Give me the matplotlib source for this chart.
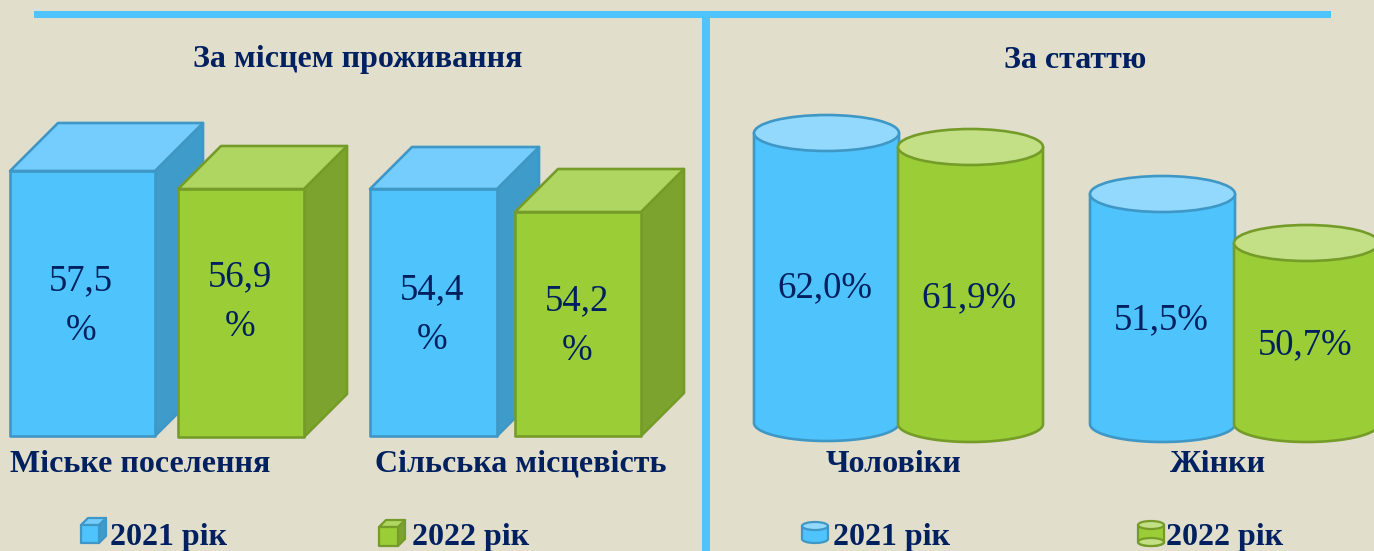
"""
Recreates the two-panel employment chart (by place of residence and by sex), 3D style boxes and cylinders.
"""

# import the required libraries
import numpy as np
import matplotlib
matplotlib.use('Agg')
import matplotlib.pyplot as plt
from matplotlib.patches import Polygon, Ellipse, Rectangle

# chart data
panel_titles = ['За місцем проживання', 'За статтю']
place_labels = ['Міське поселення', 'Сільська місцевість']
sex_labels = ['Чоловіки', 'Жінки']
legend_labels = ['2021 рік', '2022 рік']

place_2021 = [57.5, 54.4]
place_2022 = [56.9, 54.2]
sex_2021 = [62.0, 51.5]
sex_2022 = [61.9, 50.7]

# the shapes in the picture are not to scale, so their drawn heights are read off separately
place_heights_2021 = [265, 247]
place_heights_2022 = [248, 224]
sex_heights_2021 = [290, 230]
sex_heights_2022 = [277, 181]

# colours
BG = '#E1DECB'
NAVY = '#002060'
LINE = '#4FC3FB'
BLUE = dict(front='#4FC3FB', top='#74CDFC', side='#3F9BC9', edge='#3F97C6', cap='#93D9FD')
GREEN = dict(front='#9ACD36', top='#AFD660', side='#7BA32D', edge='#759C29', cap='#C3E087')
SERIF = 'Liberation Serif'
BOLD_SIZE = 23
VALUE_SIZE = 26.5


def fmt(value):
    return f'{value:.1f}'.replace('.', ',')


# draw a box with its front face standing on 'bottom'
def draw_box(ax, left, width, height, depth, bottom, colors, lw=1.9):
    top = bottom - height
    right = left + width
    ax.add_patch(Polygon([(right, top), (right + depth, top - depth), (right + depth, bottom - depth), (right, bottom)],
                         closed=True, fc=colors['side'], ec=colors['edge'], lw=lw, joinstyle='round'))
    ax.add_patch(Polygon([(left, top), (left + depth, top - depth), (right + depth, top - depth), (right, top)],
                         closed=True, fc=colors['top'], ec=colors['edge'], lw=lw, joinstyle='round'))
    ax.add_patch(Rectangle((left, top), width, height, fc=colors['front'], ec=colors['edge'], lw=lw, joinstyle='round'))


# draw a cylinder, 'bottom' is the centre of the lower ellipse
def draw_cylinder(ax, left, width, height, ry, bottom, colors, lw=1.9):
    cx = left + width / 2
    top = bottom - height
    angle = np.linspace(np.pi, 0, 60)
    arc_x = cx + width / 2 * np.cos(angle)
    arc_y = bottom + ry * np.sin(angle)
    outline = [(left, top)] + list(zip(arc_x, arc_y)) + [(left + width, top)]
    ax.add_patch(Polygon(outline, closed=True, fc=colors['front'], ec=colors['edge'], lw=lw, joinstyle='round'))
    ax.add_patch(Ellipse((cx, top), width, 2 * ry, fc=colors['cap'], ec=colors['edge'], lw=lw))


# Main code block
if __name__ == '__main__':
    fig = plt.figure(figsize=(13.74, 5.51), dpi=100, facecolor=BG)
    ax = fig.add_axes([0, 0, 1, 1])
    ax.set_xlim(0, 1374)
    ax.set_ylim(551, 0)
    ax.axis('off')

    # frame lines
    ax.add_patch(Rectangle((34, 11), 1297, 7, fc=LINE, ec='none'))
    ax.add_patch(Rectangle((702, 18), 8, 533, fc=LINE, ec='none'))

    # titles
    ax.text(358, 60, panel_titles[0], family=SERIF, weight='bold', size=BOLD_SIZE, color=NAVY, ha='center', va='center')
    ax.text(1075, 60, panel_titles[1], family=SERIF, weight='bold', size=BOLD_SIZE, color=NAVY, ha='center', va='center')

    # boxes, left panel
    draw_box(ax, 10, 145, place_heights_2021[0], 48, 436, BLUE)
    draw_box(ax, 178, 126, place_heights_2022[0], 43, 437, GREEN)
    draw_box(ax, 370, 127, place_heights_2021[1], 42, 436, BLUE)
    draw_box(ax, 515, 126, place_heights_2022[1], 43, 436, GREEN)

    # cylinders, right panel
    draw_cylinder(ax, 754, 145, sex_heights_2021[0], 18, 423, BLUE)
    draw_cylinder(ax, 898, 145, sex_heights_2022[0], 18, 424, GREEN)
    draw_cylinder(ax, 1090, 145, sex_heights_2021[1], 18, 424, BLUE)
    draw_cylinder(ax, 1234, 145, sex_heights_2022[1], 18, 424, GREEN)

    # value labels on the boxes, number and percent sign on separate lines
    box_values = [place_2021[0], place_2022[0], place_2021[1], place_2022[1]]
    box_x = [81, 240, 432, 577]
    box_y = [281, 277, 290, 301]
    for value, x, y in zip(box_values, box_x, box_y):
        ax.text(x, y, fmt(value), family=SERIF, size=VALUE_SIZE, color=NAVY, ha='center', va='center')
        ax.text(x, y + 50, '%', family=SERIF, size=VALUE_SIZE, color=NAVY, ha='center', va='center')

    # value labels on the cylinders
    cyl_values = [sex_2021[0], sex_2022[0], sex_2021[1], sex_2022[1]]
    cyl_x = [825, 969, 1161, 1305]
    cyl_y = [288, 298, 320, 345]
    for value, x, y in zip(cyl_values, cyl_x, cyl_y):
        ax.text(x, y, fmt(value) + '%', family=SERIF, size=VALUE_SIZE, color=NAVY, ha='center', va='center')

    # category labels
    ax.text(10, 464, place_labels[0], family=SERIF, weight='bold', size=BOLD_SIZE, color=NAVY, ha='left', va='center')
    ax.text(375, 464, place_labels[1], family=SERIF, weight='bold', size=BOLD_SIZE, color=NAVY, ha='left', va='center')
    ax.text(894, 464, sex_labels[0], family=SERIF, weight='bold', size=BOLD_SIZE, color=NAVY, ha='center', va='center')
    ax.text(1218, 464, sex_labels[1], family=SERIF, weight='bold', size=BOLD_SIZE, color=NAVY, ha='center', va='center')

    # legends
    draw_box(ax, 81, 18, 18, 7, 543, BLUE, lw=1.6)
    draw_box(ax, 379, 19, 19, 7, 546, GREEN, lw=1.6)
    draw_cylinder(ax, 802, 26, 13, 4, 539, BLUE, lw=1.6)
    draw_cylinder(ax, 1138, 26, 17, 4, 542, GREEN, lw=1.6)
    ax.add_patch(Ellipse((1151, 542), 26, 8, fc=GREEN['cap'], ec=GREEN['edge'], lw=1.6))
    legend_x = [110, 412, 833, 1166]
    for x, label in zip(legend_x, legend_labels * 2):
        ax.text(x, 538, label, family=SERIF, weight='bold', size=BOLD_SIZE, color=NAVY, ha='left', va='center')

    # save the figure
    fig.savefig('out.png', dpi=100, facecolor=BG)

# End of code
